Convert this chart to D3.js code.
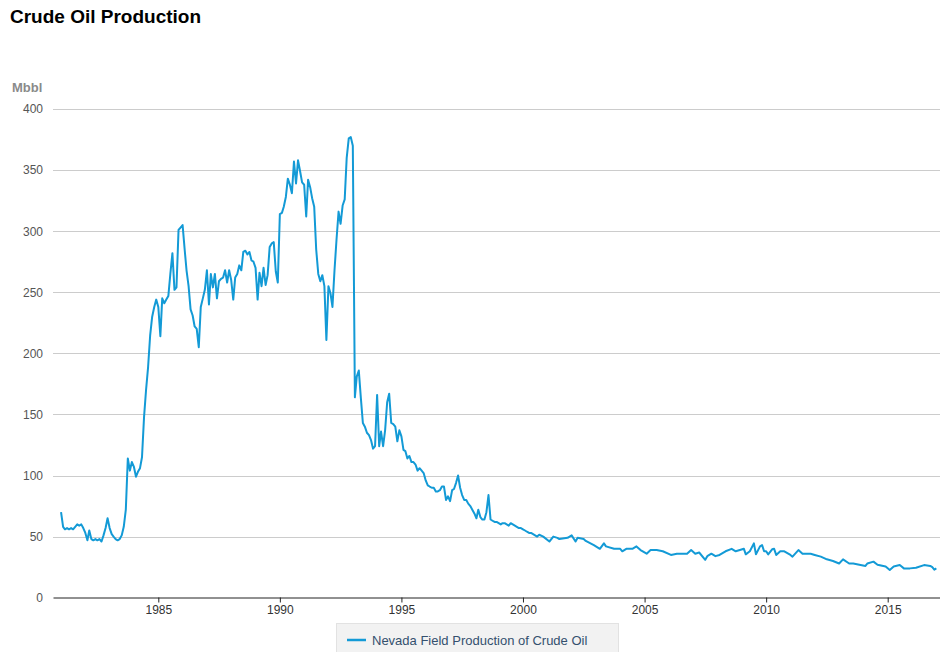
<!DOCTYPE html>
<html>
<head>
<meta charset="utf-8">
<script src="https://cdn.jsdelivr.net/npm/d3@7"></script>
<style>
  html, body { margin: 0; padding: 0; background: #fff; }
  svg { display: block; font-family: "Liberation Sans", Arial, Helvetica, sans-serif; }
</style>
</head>
<body>
<svg id="chart" width="940" height="652"></svg>
<script>
// ---------- data ----------
const title = "Crude Oil Production";
const unitLabel = "Mbbl";
const seriesName = "Nevada Field Production of Crude Oil";
const yTicks = [0, 50, 100, 150, 200, 250, 300, 350, 400];
const xTickYears = [1985, 1990, 1995, 2000, 2005, 2010, 2015];

// monthly readings 1981-1999 (Jan..Dec each year)
const monthly1981 = [70, 58, 56, 57, 56, 57, 56, 58, 60, 59, 60, 57];
const monthly1982 = [53, 47, 55, 48, 47, 48, 47, 48, 46, 51, 57, 65];
const monthly1983 = [57, 52, 50, 48, 47, 48, 51, 58, 72, 114, 104, 111];
const monthly1984 = [107, 99, 103, 106, 115, 148, 170, 189, 215, 230, 238, 244];
const monthly1985 = [238, 214, 245, 241, 244, 247, 265, 282, 252, 254, 301, 303];
const monthly1986 = [305, 285, 268, 255, 236, 231, 222, 220, 205, 238, 245, 252];
const monthly1987 = [268, 240, 265, 254, 265, 245, 259, 261, 262, 268, 258, 268];
const monthly1988 = [260, 244, 262, 265, 272, 268, 283, 284, 281, 283, 276, 275];
const monthly1989 = [270, 244, 266, 255, 270, 256, 264, 287, 290, 291, 267, 258];
const monthly1990 = [314, 315, 320, 328, 343, 338, 331, 357, 339, 358, 349, 340];
const monthly1991 = [338, 312, 342, 336, 327, 320, 285, 265, 259, 264, 255, 211];
const monthly1992 = [255, 249, 238, 268, 293, 316, 306, 321, 326, 360, 376, 377];
const monthly1993 = [370, 164, 181, 186, 164, 143, 140, 135, 133, 129, 122, 124];
const monthly1994 = [166, 124, 136, 124, 137, 160, 167, 143, 142, 140, 128, 137];
const monthly1995 = [132, 121, 120, 114, 116, 111, 111, 109, 104, 106, 104, 102];
const monthly1996 = [96, 92, 91, 90, 90, 87, 87, 88, 91, 91, 80, 83];
const monthly1997 = [79, 88, 89, 94, 100, 90, 84, 80, 80, 77, 75, 72];
const monthly1998 = [69, 65, 72, 66, 64, 64, 70, 84, 64, 63, 62, 62];
const monthly1999 = [61, 60, 61, 61, 60, 59, 61, 60, 59, 58, 57, 57];
const monthly2000 = [56, 55, 54, 53, 53, 52, 51, 50];
const monthlyStartYear = 1981;

// sparser readings 2000-2017
const laterDates = ["2000-09","2000-11","2001-02","2001-04","2001-06","2001-07","2001-11","2002-01","2002-03","2002-04",
  "2002-07","2002-08","2002-12","2003-03","2003-05","2003-06","2003-10","2004-01","2004-02","2004-04",
  "2004-07","2004-09","2004-11","2005-02","2005-04","2005-07","2005-10","2006-02","2006-05","2006-10",
  "2006-12","2007-02","2007-04","2007-07","2007-08","2007-10","2007-12","2008-02","2008-05","2008-08",
  "2008-10","2009-02","2009-03","2009-05","2009-07","2009-08","2009-10","2009-11","2009-12","2010-01",
  "2010-02","2010-04","2010-05","2010-06","2010-08","2010-10","2011-01","2011-02","2011-05","2011-07",
  "2011-11","2012-01","2012-04","2012-07","2012-10","2013-01","2013-03","2013-06","2013-08","2013-11",
  "2014-02","2014-03","2014-06","2014-08","2014-12","2015-02","2015-04","2015-07","2015-09","2015-12",
  "2016-03","2016-07","2016-10","2016-11","2016-12","2017-01"];
const laterValues = [51.5, 50, 46, 50, 49, 48, 49, 51, 46, 49,
  48, 46.5, 43, 40, 44.5, 42, 40, 40, 38, 40,
  40, 42, 39, 36, 39, 39, 38, 35, 36, 36,
  39, 36, 37, 31, 34, 36, 34, 35, 38, 40,
  38, 40, 35.5, 38, 44.5, 35.5, 42, 43, 38, 38,
  35.5, 39.6, 40, 35, 38, 38, 35, 33.6, 39, 36,
  36, 35, 33.6, 31.4, 30, 28, 31.4, 28, 28, 27,
  26, 28, 29.5, 27, 25.5, 22.7, 25.5, 26.7, 24, 24,
  24.5, 26.7, 26, 25, 23, 24];

// ---------- assemble ----------
const monthlyBlocks = [monthly1981, monthly1982, monthly1983, monthly1984, monthly1985, monthly1986,
  monthly1987, monthly1988, monthly1989, monthly1990, monthly1991, monthly1992, monthly1993,
  monthly1994, monthly1995, monthly1996, monthly1997, monthly1998, monthly1999, monthly2000];
const data = [];
monthlyBlocks.forEach((arr, yi) => {
  arr.forEach((v, mi) => data.push({ date: new Date(monthlyStartYear + yi, mi, 1), value: v }));
});
const parseMonth = d3.timeParse("%Y-%m");
laterDates.forEach((d, i) => data.push({ date: parseMonth(d), value: laterValues[i] }));

// ---------- layout ----------
const svg = d3.select("#chart");
const plotLeft = 53, plotRight = 940, plotTop = 109, plotBottom = 597.7;

const xRef = d3.scaleTime()
  .domain([new Date(1985, 0, 1), new Date(2015, 0, 1)])
  .range([158.3, 887.7]);
const x = d3.scaleTime()
  .domain([xRef.invert(plotLeft), xRef.invert(plotRight)])
  .range([plotLeft, plotRight]);
const y = d3.scaleLinear().domain([0, 400]).range([plotBottom, plotTop]);

// title
svg.append("text")
  .attr("x", 10).attr("y", 23)
  .attr("font-size", 19).attr("font-weight", "bold").attr("fill", "#000")
  .text(title);

// unit label
svg.append("text")
  .attr("x", 12).attr("y", 92)
  .attr("font-size", 13).attr("font-weight", "bold").attr("fill", "#8a8a8a")
  .text(unitLabel);

// gridlines
svg.append("g")
  .selectAll("line")
  .data(yTicks.filter(t => t > 0))
  .join("line")
  .attr("x1", plotLeft).attr("x2", plotRight)
  .attr("y1", d => Math.round(y(d)) + 0.5).attr("y2", d => Math.round(y(d)) + 0.5)
  .attr("stroke", "#cccccc").attr("stroke-width", 1);

// y axis labels
const yAxis = d3.axisLeft(y).tickValues(yTicks).tickSize(0).tickPadding(10);
const gy = svg.append("g").attr("transform", `translate(${plotLeft},0)`).call(yAxis);
gy.select(".domain").remove();
gy.selectAll("text")
  .attr("font-size", 12).attr("fill", "#555")
  .attr("font-family", "'Liberation Sans', Arial, sans-serif");

// line
const line = d3.line()
  .x(d => x(d.date))
  .y(d => y(d.value));
svg.append("path")
  .datum(data)
  .attr("fill", "none")
  .attr("stroke", "#139ad6")
  .attr("stroke-width", 2)
  .attr("stroke-linejoin", "round")
  .attr("d", line);

// x axis
const xAxis = d3.axisBottom(x)
  .tickValues(xTickYears.map(yr => new Date(yr, 0, 1)))
  .tickFormat(d3.timeFormat("%Y"))
  .tickSizeInner(5).tickSizeOuter(0).tickPadding(3);
const gx = svg.append("g").attr("transform", `translate(0,${Math.round(plotBottom) - 0.5})`).call(xAxis);
gx.select(".domain").attr("stroke", "#222").attr("stroke-width", 1);
gx.selectAll(".tick line").attr("stroke", "#222");
gx.selectAll("text")
  .attr("font-size", 12).attr("fill", "#333")
  .attr("font-family", "'Liberation Sans', Arial, sans-serif");

// legend
const legend = svg.append("g");
legend.append("rect")
  .attr("x", 336.5).attr("y", 623.5).attr("width", 282).attr("height", 35)
  .attr("fill", "#f2f2f2").attr("stroke", "#e2e2e2").attr("stroke-width", 1);
legend.append("line")
  .attr("x1", 347).attr("x2", 366).attr("y1", 640).attr("y2", 640)
  .attr("stroke", "#139ad6").attr("stroke-width", 2.5);
legend.append("text")
  .attr("x", 372).attr("y", 644.5)
  .attr("font-size", 13).attr("fill", "#34506e")
  .text(seriesName);
</script>
</body>
</html>
